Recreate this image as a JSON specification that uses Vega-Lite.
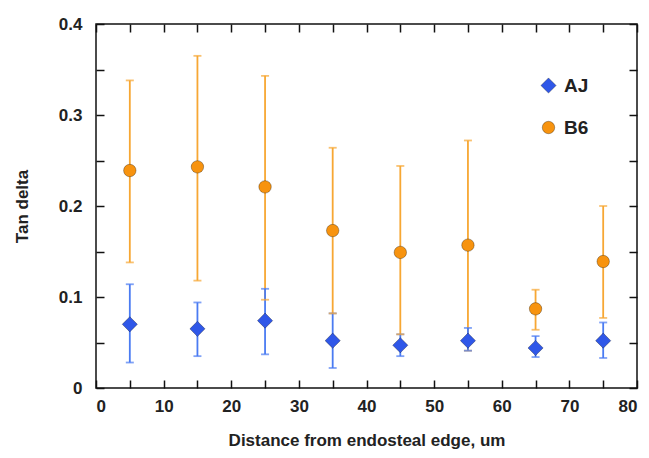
{
  "$schema": "https://vega.github.io/schema/vega-lite/v6.json",
  "autosize": {"type": "none"},
  "width": 541,
  "height": 364,
  "padding": {"left": 96, "top": 24, "right": 12, "bottom": 70},
  "background": "white",
  "config": {
    "view": {"stroke": "#111", "strokeWidth": 1.5},
    "font": "Liberation Sans",
    "axis": {
      "grid": false,
      "domain": false,
      "tickColor": "#111",
      "tickWidth": 1.5,
      "tickSize": -8,
      "labelFont": "Liberation Sans",
      "labelFontWeight": "bold",
      "labelFontSize": 17,
      "labelColor": "#222",
      "titleFont": "Liberation Sans",
      "titleFontWeight": "bold",
      "titleFontSize": 17,
      "titleColor": "#222"
    },
    "legend": {
      "title": null, "orient": "none", "legendX": 443, "legendY": 52,
      "labelFont": "Liberation Sans", "labelFontWeight": "bold", "labelFontSize": 19,
      "labelColor": "#222", "rowPadding": 22, "labelOffset": 6, "padding": 0,
      "symbolStrokeWidth": 1, "symbolStrokeColor": "rgba(0,0,0,0.3)"
    }
  },
  "data": {
    "values": [
      {"d": 5, "group": "B6", "mean": 0.239, "lo": 0.138, "hi": 0.338},
      {"d": 15, "group": "B6", "mean": 0.243, "lo": 0.118, "hi": 0.365},
      {"d": 25, "group": "B6", "mean": 0.221, "lo": 0.097, "hi": 0.343},
      {"d": 35, "group": "B6", "mean": 0.173, "lo": 0.082, "hi": 0.264},
      {"d": 45, "group": "B6", "mean": 0.149, "lo": 0.059, "hi": 0.244},
      {"d": 55, "group": "B6", "mean": 0.157, "lo": 0.041, "hi": 0.272},
      {"d": 65, "group": "B6", "mean": 0.087, "lo": 0.064, "hi": 0.108},
      {"d": 75, "group": "B6", "mean": 0.139, "lo": 0.077, "hi": 0.200},
      {"d": 5, "group": "AJ", "mean": 0.070, "lo": 0.028, "hi": 0.114},
      {"d": 15, "group": "AJ", "mean": 0.065, "lo": 0.035, "hi": 0.094},
      {"d": 25, "group": "AJ", "mean": 0.074, "lo": 0.037, "hi": 0.109},
      {"d": 35, "group": "AJ", "mean": 0.052, "lo": 0.022, "hi": 0.082},
      {"d": 45, "group": "AJ", "mean": 0.047, "lo": 0.035, "hi": 0.059},
      {"d": 55, "group": "AJ", "mean": 0.052, "lo": 0.041, "hi": 0.066},
      {"d": 65, "group": "AJ", "mean": 0.044, "lo": 0.034, "hi": 0.057},
      {"d": 75, "group": "AJ", "mean": 0.052, "lo": 0.033, "hi": 0.072}
    ]
  },
  "resolve": {"axis": {"x": "independent", "y": "independent"}},
  "layer": [
    {
      "mark": {"type": "rule", "strokeWidth": 1.8},
      "encoding": {
        "x": {"field": "d", "type": "quantitative",
              "scale": {"domain": [0, 80], "nice": false},
              "axis": {"orient": "bottom", "values": [0,5,10,15,20,25,30,35,40,45,50,55,60,65,70,75,80],
                       "labelExpr": "datum.value % 10 == 0 ? datum.label : ''",
                       "labelPadding": 18, "title": "Distance from endosteal edge, um", "titlePadding": 18}},
        "y": {"field": "lo", "type": "quantitative",
              "scale": {"domain": [0, 0.4], "nice": false},
              "axis": {"orient": "left", "values": [0,0.05,0.1,0.15,0.2,0.25,0.3,0.35,0.4],
                       "labelExpr": "datum.value == 0 ? '0' : (abs(datum.value*10 - round(datum.value*10)) < 0.001 ? format(datum.value, '.1f') : '')",
                       "labelPadding": 22, "title": "Tan delta", "titlePadding": 27}},
        "y2": {"field": "hi"},
        "stroke": {"field": "group", "type": "nominal",
                  "scale": {"domain": ["B6", "AJ"], "range": ["#f7a733", "#4a7bf2"]},
                  "legend": null}
      }
    },
    {
      "mark": {"type": "tick", "orient": "horizontal", "size": 8, "thickness": 1.8},
      "encoding": {
        "x": {"field": "d", "type": "quantitative", "axis": null},
        "y": {"field": "hi", "type": "quantitative", "axis": null},
        "fill": {"field": "group", "type": "nominal",
                 "scale": {"domain": ["B6", "AJ"], "range": ["#f7a733", "#4a7bf2"]},
                 "legend": null}
      }
    },
    {
      "mark": {"type": "tick", "orient": "horizontal", "size": 8, "thickness": 1.8},
      "encoding": {
        "x": {"field": "d", "type": "quantitative", "axis": null},
        "y": {"field": "lo", "type": "quantitative", "axis": null},
        "fill": {"field": "group", "type": "nominal", "legend": null}
      }
    },
    {
      "mark": {"type": "point", "filled": true, "opacity": 1, "stroke": "#000", "strokeOpacity": 0.3, "strokeWidth": 1},
      "encoding": {
        "x": {"field": "d", "type": "quantitative",
              "axis": {"orient": "top", "values": [0,5,10,15,20,25,30,35,40,45,50,55,60,65,70,75,80], "labels": false, "title": null}},
        "y": {"field": "mean", "type": "quantitative",
              "axis": {"orient": "right", "values": [0,0.05,0.1,0.15,0.2,0.25,0.3,0.35,0.4], "labels": false, "title": null}},
        "color": {"field": "group", "type": "nominal",
                 "scale": {"domain": ["AJ", "B6"], "range": ["#2f57e8", "#f7930f"]}},
        "shape": {"field": "group", "type": "nominal",
                  "scale": {"domain": ["AJ", "B6"], "range": ["diamond", "circle"]}},
        "size": {"field": "group", "type": "nominal",
                 "scale": {"domain": ["AJ", "B6"], "range": [230, 155]}}
      }
    }
  ]
}
